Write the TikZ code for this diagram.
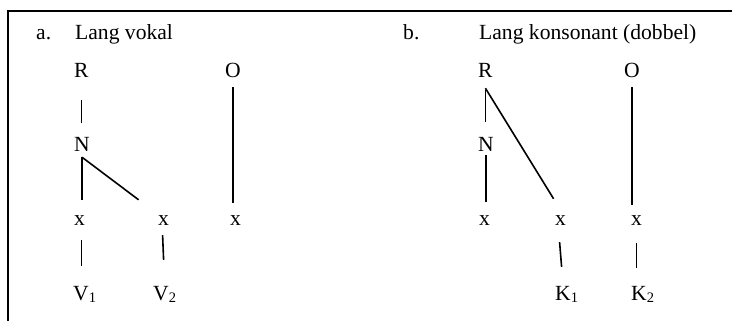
\documentclass[tikz,border=0pt]{standalone}
\usepackage{fontspec}
\setmainfont{Liberation Serif}
\usetikzlibrary{positioning}

\newcommand\idx[1]{\raisebox{-0.12em}{\fontsize{14.5}{14.5}\selectfont #1}}

\begin{document}
\begin{tikzpicture}[
    x=1pt, y=-1pt,
    every node/.style={font=\fontsize{21.6}{25}\selectfont},
    seg/.style={inner sep=0pt, text height=14pt, text depth=0pt, anchor=base west},
    link/.style={line width=1.6pt, black},
    frame/.style={line width=1.8pt, black},
]
\useasboundingbox (0,0) rectangle (732,321);

% ---- Frame ----
\draw[frame] (8,321) -- (8,11) -- (732,11);

% ---- a. Lang vokal ----
\node[seg] (labA) at (36,40) {a.};
\node[seg] (titA) at (75,40) {Lang vokal};

\node[seg] (rA) at (74,78) {R};
\node[seg] (oA) at (225,78) {O};
\node[seg] (nA) at (74,152) {N};
\node[seg] (xa1) at (74,225) {x};
\node[seg] (xa2) at (158,225) {x};
\node[seg] (xa3) at (230,225) {x};
\node[seg] (va1) at (73,300) {V\idx{1}};
\node[seg] (va2) at (153,300) {V\idx{2}};

\draw[link] ([yshift=-22pt]rA.south) -- ([yshift=15pt]rA.south |- nA.north);
\draw[link] ([yshift=-5pt]nA.south) -- ([yshift=11pt]nA.south |- xa1.north);
\draw[link] ([yshift=-5pt]nA.south) -- ([xshift=-25pt,yshift=11pt]xa2.north);
\draw[link] ([yshift=-9pt]oA.south) -- ([yshift=8pt]oA.south |- xa3.north);
\draw[link] ([xshift=2pt,yshift=-15pt]xa1.south) -- ([xshift=2pt,yshift=20pt]xa1.south |- va1.north);
\draw[link] ([xshift=-1pt,yshift=-10pt]xa2.south) -- ([yshift=26pt]xa2.south |- va2.north);

% ---- b. Lang konsonant (dobbel) ----
\node[seg] (labB) at (403,40) {b.};
\node[seg] (titB) at (479,40) {Lang konsonant (dobbel)};

\node[seg] (rB) at (478,78) {R};
\node[seg] (oB) at (624,78) {O};
\node[seg] (nB) at (478,152) {N};
\node[seg] (xb1) at (479,225) {x};
\node[seg] (xb2) at (555,225) {x};
\node[seg] (xb3) at (631,225) {x};
\node[seg] (kb1) at (555,300) {K\idx{1}};
\node[seg] (kb2) at (631,300) {K\idx{2}};

\draw[link] ([yshift=-12pt]rB.south) -- ([yshift=16pt]rB.south |- nB.north);
\draw[link] ([yshift=-10pt]rB.south) -- ([xshift=-7pt,yshift=12pt]xb2.north);
\draw[link] ([yshift=-3pt]nB.south) -- ([yshift=9pt]nB.south |- xb1.north);
\draw[link] ([yshift=-9pt]oB.south) -- ([yshift=6pt]oB.south |- xb3.north);
\draw[link] ([xshift=-1pt,yshift=-17pt]xb2.south) -- ([xshift=1pt,yshift=19pt]xb2.south |- kb1.north);
\draw[link] ([yshift=-18pt]xb3.south) -- ([yshift=18pt]xb3.south |- kb2.north);

\end{tikzpicture}
\end{document}
